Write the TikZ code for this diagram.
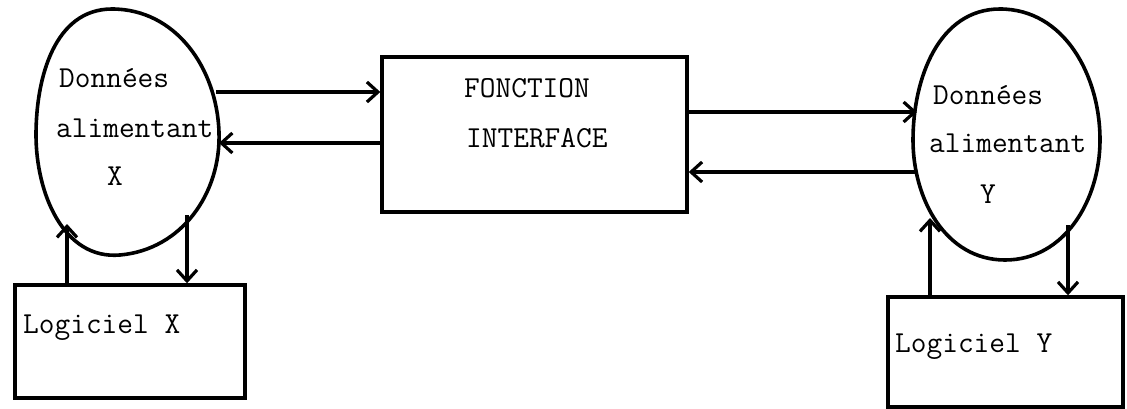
\documentclass[tikz,border=0pt]{standalone}
\usetikzlibrary{arrows.meta}
\begin{document}
\begin{tikzpicture}[x=1pt,y=-1pt,
  box/.style={draw,line width=3.4pt,rectangle,inner sep=0pt,fill=none},
  blob/.style={line width=3.6pt},
  arr/.style={line width=3.2pt,-{Straight Barb[length=11pt,width=20pt,line width=3.2pt]}},
  lbl/.style={font=\fontsize{30.5}{32}\selectfont\ttfamily,inner sep=0pt,anchor=base west}]
\useasboundingbox (0,0) rectangle (1127,409);
% blobs
\draw[blob] (36,135) to[out=90,in=180] (112,9) to[out=0,in=92] (219,132)
  to[out=-88,in=5] (120,255) to[out=185,in=-90] cycle;
\draw[blob] (913,140) to[out=90,in=180] (1000,9) to[out=0,in=90] (1100,140)
  to[out=-90,in=0] (1005,260) to[out=180,in=-90] cycle;
% boxes
\node[box,minimum width=230pt,minimum height=113pt] (lx) at (130,341.5) {};
\node[box,minimum width=305pt,minimum height=155pt] (fi) at (534.5,134.5) {};
\node[box,minimum width=235pt,minimum height=110pt] (ly) at (1005.5,352) {};
% texts
\node[lbl] (dx1) at (59,88) {Donn\'ees};
\node[lbl] (dx2) at (56,138) {alimentant};
\node[lbl] (dx3) at (107,185) {X};
\node[lbl] (f1) at (464,98) {FONCTION};
\node[lbl] (f2) at (466,147) {INTERFACE};
\node[lbl] (dy1) at (933,105) {Donn\'ees};
\node[lbl] (dy2) at (929,153) {alimentant};
\node[lbl] (dy3) at (980,203) {Y};
\node[lbl] (tx) at (23,333) {Logiciel X};
\node[lbl] (ty) at (895,352) {Logiciel Y};
% blob boundary coordinates
\coordinate (bx1) at (216,92);
\coordinate (bx2) at (219,143);
\coordinate (bxu) at (67,224);
\coordinate (bxd) at (187,215);
\coordinate (by1) at (917,112);
\coordinate (by2) at (916,172);
\coordinate (byu) at (930,218);
\coordinate (byd) at (1068,225);
% connectors
\draw[arr] (bx1) -- (bx1 -| fi.west);
\draw[arr] (bx2 -| fi.west) -- (bx2);
\draw[arr] (by1 -| fi.east) -- (by1);
\draw[arr] (by2) -- (by2 -| fi.east);
\draw[arr] (bxu |- lx.north) -- (bxu);
\draw[arr] (bxd) -- (bxd |- lx.north);
\draw[arr] (byu |- ly.north) -- (byu);
\draw[arr] (byd) -- (byd |- ly.north);
\end{tikzpicture}
\end{document}
